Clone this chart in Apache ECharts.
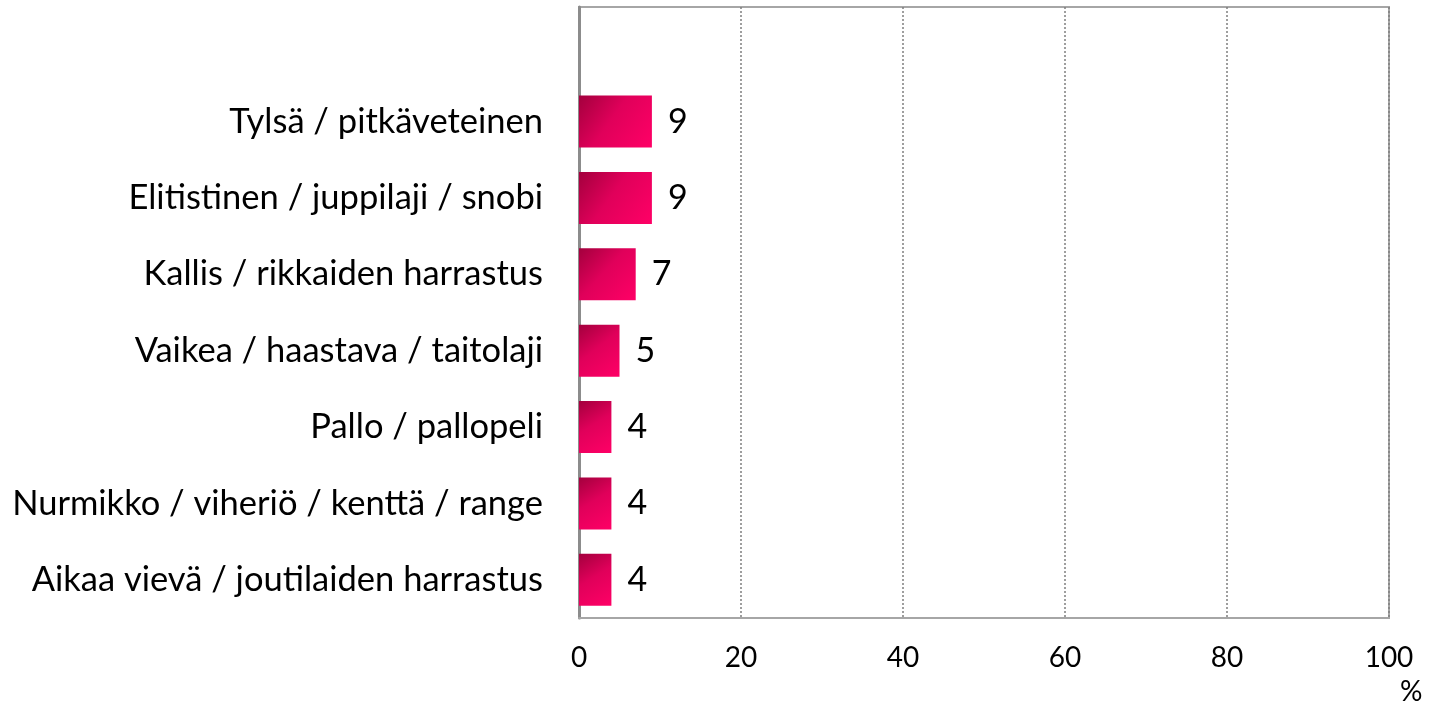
<!DOCTYPE html>
<html><head><meta charset="utf-8">
<script src="https://cdn.jsdelivr.net/npm/echarts@6/dist/echarts.min.js"></script>
<style>html,body{margin:0;padding:0;background:#fff}#c{width:1430px;height:701px}</style>
</head><body><div id="c"></div>
<script>
const categories = ["", "Tylsä / pitkäveteinen", "Elitistinen / juppilaji / snobi", "Kallis / rikkaiden harrastus", "Vaikea / haastava / taitolaji", "Pallo / pallopeli", "Nurmikko / viheriö / kenttä / range", "Aikaa vievä / joutilaiden harrastus"];
const values = [null, 9, 9, 7, 5, 4, 4, 4];
const xTicks = [0, 20, 40, 60, 80, 100];
const FONT = "Lato, 'Open Sans', sans-serif";
const chart = echarts.init(document.getElementById('c'));
chart.setOption({
  animation: false,
  grid: {left: 579, right: 41, top: 7, bottom: 83, show: true, borderColor: '#a6a6a6', borderWidth: 2},
  xAxis: {
    type: 'value', min: xTicks[0], max: xTicks[xTicks.length-1], interval: 20,
    axisLine: {show: true, lineStyle: {color: '#a6a6a6', width: 2}},
    axisTick: {show: false},
    splitLine: {show: true, lineStyle: {color: '#7f7f7f', type: [2, 2], width: 1.5}},
    axisLabel: {fontFamily: FONT, fontSize: 28, color: '#000', margin: 26}
  },
  yAxis: {
    type: 'category', data: categories, inverse: true,
    axisLine: {show: true, lineStyle: {color: '#8c8c8c', width: 3}},
    axisTick: {show: false},
    axisLabel: {fontFamily: FONT, fontSize: 34.5, color: '#000', margin: 36}
  },
  series: [{
    type: 'bar', data: values, barCategoryGap: '32%',
    itemStyle: {color: new echarts.graphic.LinearGradient(0, 0, 1, 1, [
      {offset: 0, color: '#a3003d'}, {offset: 0.45, color: '#e0005a'}, {offset: 1, color: '#ff0066'}])},
    label: {show: true, position: 'right', distance: 16, fontFamily: FONT, fontSize: 34, color: '#000'}
  }],
  graphic: [{type: 'text', left: 1400, top: 678, style: {text: '%', fontFamily: FONT, fontSize: 28, fill: '#000'}}]
});
</script></body></html>
